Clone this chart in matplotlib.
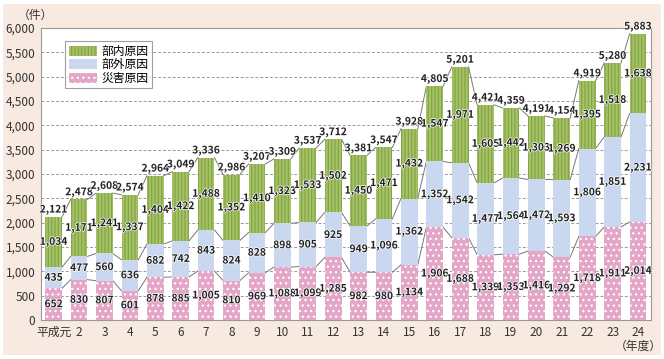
import matplotlib
matplotlib.use('Agg')
import matplotlib.pyplot as plt
import matplotlib.patheffects as pe
from matplotlib.patches import Rectangle

plt.rcParams['font.family'] = ['Noto Sans CJK JP', 'DejaVu Sans']
plt.rcParams['hatch.linewidth'] = 0.9

# データ（単位：件）
years = ['平成元', '2', '3', '4', '5', '6', '7', '8', '9', '10', '11', '12',
         '13', '14', '15', '16', '17', '18', '19', '20', '21', '22', '23', '24']
saigai = [652, 830, 807, 601, 878, 885, 1005, 810, 969, 1088, 1099, 1285,
          982, 980, 1134, 1906, 1688, 1339, 1353, 1416, 1292, 1718, 1911, 2014]
bugai = [435, 477, 560, 636, 682, 742, 843, 824, 828, 898, 905, 925,
         949, 1096, 1362, 1352, 1542, 1477, 1564, 1472, 1593, 1806, 1851, 2231]
bunai = [1034, 1171, 1241, 1337, 1404, 1422, 1488, 1352, 1410, 1323, 1533, 1502,
         1450, 1471, 1432, 1547, 1971, 1605, 1442, 1303, 1269, 1395, 1518, 1638]

bg = '#f8e9e1'
fig = plt.figure(figsize=(6.64, 3.59), dpi=100, facecolor='white')
fig.patches.append(Rectangle((0.005, 0.01), 0.99, 0.98, transform=fig.transFigure,
                             facecolor=bg, edgecolor='none', zorder=-10))
ax = fig.add_axes([0.0617, 0.1086, 0.9183, 0.8134])

x = list(range(len(years)))
w = 0.66
b2 = [a + b for a, b in zip(saigai, bugai)]
total = [a + b for a, b in zip(b2, bunai)]

ax.bar(x, saigai, w, color='#e3a6c6', edgecolor='white', hatch='...', linewidth=0,
       label='災害原因', zorder=3)
ax.bar(x, bugai, w, bottom=saigai, color='#c9d8ef', linewidth=0,
       label='部外原因', zorder=3)
ax.bar(x, bunai, w, bottom=b2, color='#a6c267', edgecolor='#83a545', hatch='|||||',
       linewidth=0, label='部内原因', zorder=3)

# 棒の間をつなぐ線
for series in (saigai, b2, total):
    for i in range(len(x) - 1):
        ax.plot([i + w / 2, i + 1 - w / 2], [series[i], series[i + 1]],
                color='#777777', lw=0.7, zorder=2)

stroke = [pe.withStroke(linewidth=1.0, foreground='white')]
lab = dict(ha='center', va='center', fontsize=7.4, fontweight='bold',
           color='#222222', zorder=5, path_effects=stroke)
for i in x:
    ax.text(i, saigai[i] / 2, f'{saigai[i]:,}', **lab)
    ax.text(i, saigai[i] + bugai[i] / 2, f'{bugai[i]:,}', **lab)
    ax.text(i, b2[i] + bunai[i] / 2, f'{bunai[i]:,}', **lab)
    ax.text(i, total[i] + 40, f'{total[i]:,}', **dict(lab, va='bottom'))

ax.set_xlim(-0.5, len(x) - 0.5)
ax.set_ylim(0, 6000)
ax.set_yticks(range(0, 6001, 500))
ax.set_yticklabels([f'{v:,}' for v in range(0, 6001, 500)])
ax.set_xticks(x)
ax.set_xticklabels(years)
ax.tick_params(length=0, labelsize=8.5, labelcolor='#333333', pad=4)
ax.grid(axis='y', linestyle=(0, (3, 2)), color='#999999', lw=0.7, zorder=0)
for s in ax.spines.values():
    s.set_color('#999999')
    s.set_linewidth(0.8)

ax.text(-0.038, 1.045, '（件）', transform=ax.transAxes, fontsize=8.5, color='#333333',
        ha='left', va='center')
ax.text(len(x) - 1, -540, '（年度）', fontsize=8.5, color='#333333', ha='center', va='center')

h, l = ax.get_legend_handles_labels()
leg = ax.legend(h[::-1], l[::-1], loc='upper left', bbox_to_anchor=(0.03, 0.975),
                fontsize=8.5, frameon=True, fancybox=False, handlelength=2.4,
                handleheight=0.9, labelspacing=0.05, borderpad=0.3, handletextpad=0.4)
leg.get_frame().set_edgecolor('#888888')
leg.get_frame().set_linewidth(0.8)

fig.savefig('out.png', dpi=100, facecolor='white')
